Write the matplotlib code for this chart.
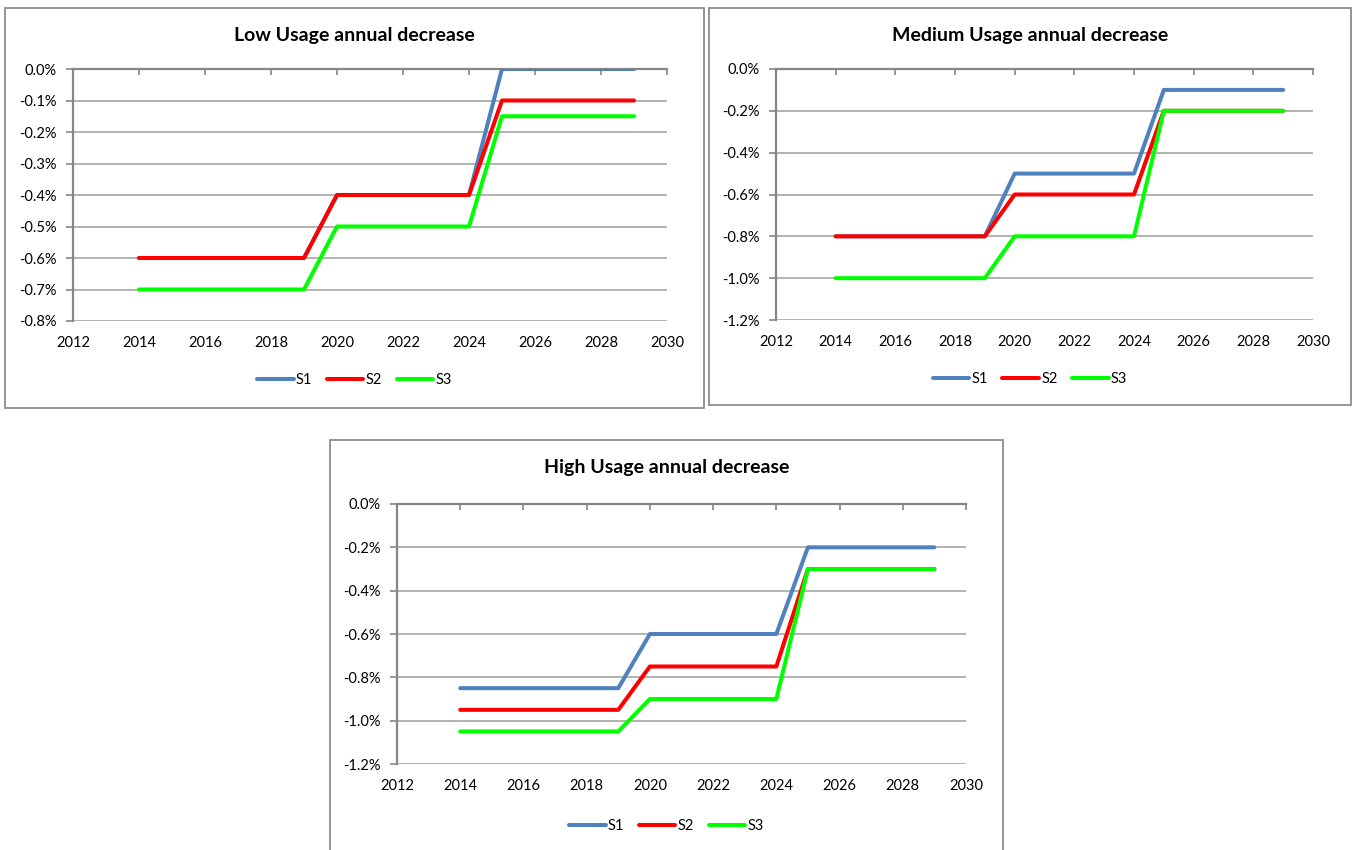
import matplotlib.pyplot as plt
from matplotlib.patches import Rectangle

plt.rcParams['font.family'] = ['Lato', 'DejaVu Sans']

years = [2014, 2015, 2016, 2017, 2018, 2019, 2020, 2021,
         2022, 2023, 2024, 2025, 2026, 2027, 2028, 2029]

# values in percent
low_s1 = [-0.6, -0.6, -0.6, -0.6, -0.6, -0.6, -0.4, -0.4,
          -0.4, -0.4, -0.4, 0.0, 0.0, 0.0, 0.0, 0.0]
low_s2 = [-0.6, -0.6, -0.6, -0.6, -0.6, -0.6, -0.4, -0.4,
          -0.4, -0.4, -0.4, -0.1, -0.1, -0.1, -0.1, -0.1]
low_s3 = [-0.7, -0.7, -0.7, -0.7, -0.7, -0.7, -0.5, -0.5,
          -0.5, -0.5, -0.5, -0.15, -0.15, -0.15, -0.15, -0.15]

med_s1 = [-0.8, -0.8, -0.8, -0.8, -0.8, -0.8, -0.5, -0.5,
          -0.5, -0.5, -0.5, -0.1, -0.1, -0.1, -0.1, -0.1]
med_s2 = [-0.8, -0.8, -0.8, -0.8, -0.8, -0.8, -0.6, -0.6,
          -0.6, -0.6, -0.6, -0.2, -0.2, -0.2, -0.2, -0.2]
med_s3 = [-1.0, -1.0, -1.0, -1.0, -1.0, -1.0, -0.8, -0.8,
          -0.8, -0.8, -0.8, -0.2, -0.2, -0.2, -0.2, -0.2]

high_s1 = [-0.85, -0.85, -0.85, -0.85, -0.85, -0.85, -0.6, -0.6,
           -0.6, -0.6, -0.6, -0.2, -0.2, -0.2, -0.2, -0.2]
high_s2 = [-0.95, -0.95, -0.95, -0.95, -0.95, -0.95, -0.75, -0.75,
           -0.75, -0.75, -0.75, -0.3, -0.3, -0.3, -0.3, -0.3]
high_s3 = [-1.05, -1.05, -1.05, -1.05, -1.05, -1.05, -0.9, -0.9,
           -0.9, -0.9, -0.9, -0.3, -0.3, -0.3, -0.3, -0.3]

x_ticks = [2012, 2014, 2016, 2018, 2020, 2022, 2024, 2026, 2028, 2030]
low_yticks = [0.0, -0.1, -0.2, -0.3, -0.4, -0.5, -0.6, -0.7, -0.8]
low_ylabels = ['0.0%', '-0.1%', '-0.2%', '-0.3%', '-0.4%', '-0.5%', '-0.6%', '-0.7%', '-0.8%']
big_yticks = [0.0, -0.2, -0.4, -0.6, -0.8, -1.0, -1.2]
big_ylabels = ['0.0%', '-0.2%', '-0.4%', '-0.6%', '-0.8%', '-1.0%', '-1.2%']

names = ['S1', 'S2', 'S3']
colors = ['#4F81BD', '#FF0000', '#00FF00']

W, H = 1356, 850
fig = plt.figure(figsize=(W / 100, H / 100), dpi=100)


def px(x0, y0, x1, y1):
    # pixel box (top-left origin) -> figure fraction
    return [x0 / W, 1 - y1 / H, (x1 - x0) / W, (y1 - y0) / H]


def panel(box, plot, title, series, yticks, ylabels, title_y, leg_y):
    bx0, by0, bx1, by1 = box
    fig.patches.append(Rectangle((bx0 / W, 1 - by1 / H), (bx1 - bx0) / W, (by1 - by0) / H,
                                 transform=fig.transFigure, fill=False,
                                 edgecolor='#8C8C8C', lw=1.3))
    ax = fig.add_axes(px(*plot))
    lines = []
    for s, c, n in zip(series, colors, names):
        l, = ax.plot(years, s, color=c, lw=2.9, label=n, solid_capstyle='round', zorder=3)
        lines.append(l)
    ax.set_xlim(2012, 2030)
    ax.set_ylim(yticks[-1], 0)
    ax.set_yticks(yticks)
    ax.set_yticklabels(ylabels)
    ax.set_xticks(x_ticks)
    ax.set_xticklabels([str(t) for t in x_ticks])
    for y in yticks[1:]:
        ax.axhline(y, color='#A6A6A6', lw=1.2, zorder=1)
    for sp in ['right', 'bottom']:
        ax.spines[sp].set_visible(False)
    ax.spines['left'].set_color('#868686')
    ax.spines['left'].set_linewidth(1.6)
    ax.spines['top'].set_color('#868686')
    ax.spines['top'].set_linewidth(1.6)
    ax.tick_params(axis='y', direction='out', length=5, width=1.2, color='#868686',
                   labelsize=10.5, pad=7)
    ax.tick_params(axis='x', bottom=False, top=True, labelbottom=True, labeltop=False,
                   direction='in', length=4, width=1.2, color='#868686',
                   labelsize=10.5, pad=11)
    cx = (bx0 + bx1) / 2 / W
    fig.text(cx, 1 - title_y / H, title, ha='center', va='center',
             fontsize=14, fontweight='bold')
    fig.legend(handles=lines, loc='center', bbox_to_anchor=(cx, 1 - leg_y / H),
               ncol=3, frameon=False, fontsize=10.5, handlelength=2.5,
               handletextpad=0.15, columnspacing=1.0)
    return ax


panel((5, 8, 704, 408), (73, 69, 667, 321), 'Low Usage annual decrease',
      [low_s1, low_s2, low_s3], low_yticks, low_ylabels, 35, 380)
panel((709, 8, 1351, 405), (776, 69, 1313, 320), 'Medium Usage annual decrease',
      [med_s1, med_s2, med_s3], big_yticks, big_ylabels, 35, 379)
panel((330, 440, 1003, 853), (397, 504, 966, 764), 'High Usage annual decrease',
      [high_s1, high_s2, high_s3], big_yticks, big_ylabels, 468, 826)

fig.savefig('out.png', dpi=100)
